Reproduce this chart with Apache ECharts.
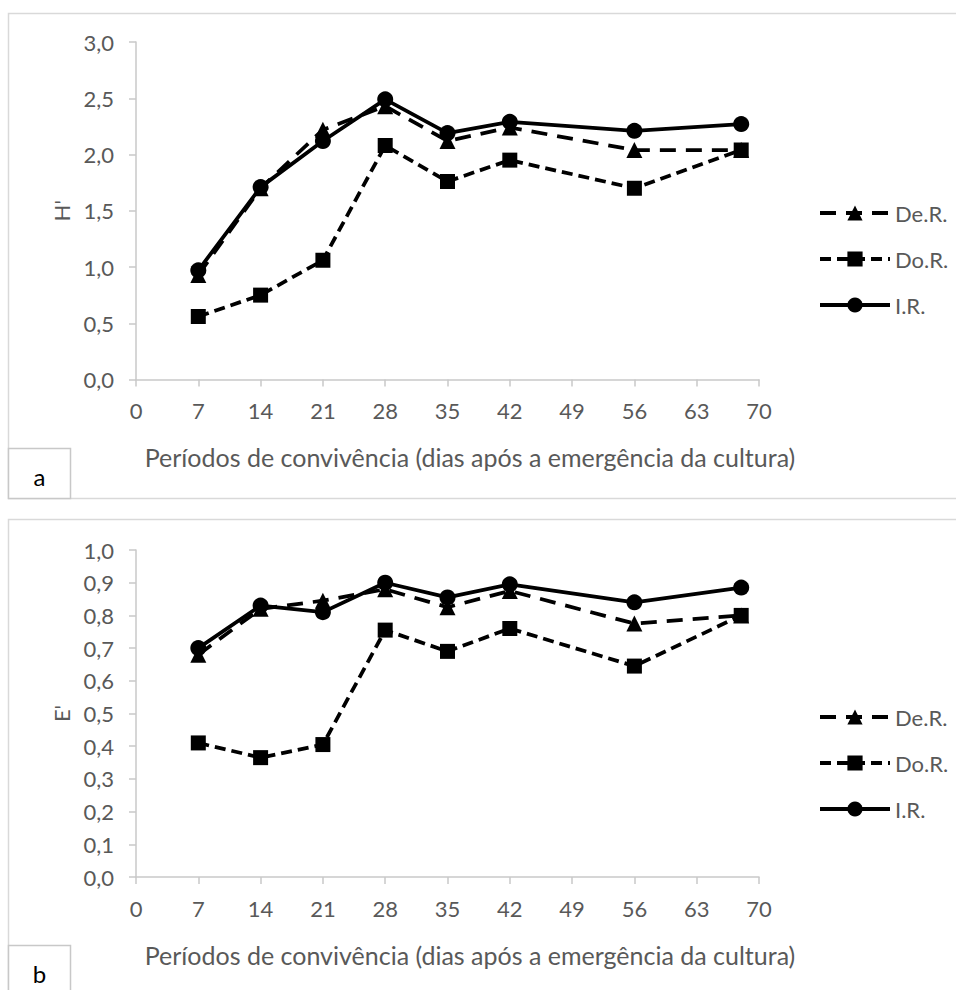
<!DOCTYPE html>
<html>
<head>
<meta charset="utf-8">
<script src="https://cdn.jsdelivr.net/npm/echarts@6/dist/echarts.min.js"></script>
<style>
html,body{margin:0;padding:0;background:#fff;}
#c{width:956px;height:990px;}
</style>
</head>
<body>
<div id="c"></div>
<script>
// ---- data ----
var days = [7, 14, 21, 28, 35, 42, 56, 68];
var xTicks = [0, 7, 14, 21, 28, 35, 42, 49, 56, 63, 70];
var seriesNames = ['De.R.', 'Do.R.', 'I.R.'];
// panel a: H'
var hDeR = [0.93, 1.70, 2.22, 2.43, 2.12, 2.24, 2.04, 2.04];
var hDoR = [0.56, 0.75, 1.06, 2.08, 1.76, 1.95, 1.70, 2.04];
var hIR  = [0.97, 1.71, 2.12, 2.49, 2.19, 2.29, 2.21, 2.27];
// panel b: E'
var eDeR = [0.68, 0.82, 0.845, 0.88, 0.825, 0.875, 0.775, 0.80];
var eDoR = [0.41, 0.365, 0.405, 0.755, 0.69, 0.76, 0.645, 0.80];
var eIR  = [0.70, 0.83, 0.81, 0.90, 0.855, 0.895, 0.84, 0.885];
var xTitle = 'Períodos de convivência (dias após a emergência da cultura)';

function pairs(ys) { return days.map(function (d, i) { return [d, ys[i]]; }); }
function fmt(v) { return v.toFixed(1).replace('.', ','); }

var FONT = 'Lato';
var GREY = '#595959';
var AXIS = '#c9c9c9';

var styles = {
  'De.R.': { symbol: 'triangle', size: 16, dash: [16, 10] },
  'Do.R.': { symbol: 'rect', size: 15, dash: [11, 6] },
  'I.R.':  { symbol: 'circle', size: 16, dash: 'solid' }
};

function mkSeries(name, data, idx) {
  var s = styles[name];
  return {
    name: name, type: 'line', xAxisIndex: idx, yAxisIndex: idx,
    data: pairs(data), symbol: s.symbol, symbolSize: s.size,
    showAllSymbol: true,
    lineStyle: { color: '#000', width: 3.75, type: s.dash },
    itemStyle: { color: '#000', borderWidth: 0 },
    emphasis: { disabled: true },
    animation: false
  };
}

function xAx(idx, gapName) {
  return {
    type: 'value', gridIndex: idx, min: 0, max: 70, interval: 7,
    axisLine: { show: true, lineStyle: { color: AXIS, width: 1.5 } },
    axisTick: { show: true, length: 7, lineStyle: { color: AXIS, width: 1.5 } },
    splitLine: { show: false },
    axisLabel: { color: GREY, fontSize: 22, fontFamily: FONT, margin: 20 },
    name: xTitle, nameLocation: 'middle', nameGap: gapName,
    nameTextStyle: { color: GREY, fontSize: 25, fontFamily: FONT, padding: [0, 0, 0, 45] }
  };
}
function yAx(idx, max, interval, nm) {
  return {
    type: 'value', gridIndex: idx, min: 0, max: max, interval: interval,
    axisLine: { show: true, lineStyle: { color: AXIS, width: 1.5 } },
    axisTick: { show: true, length: 7, lineStyle: { color: AXIS, width: 1.5 } },
    splitLine: { show: false },
    axisLabel: { color: GREY, fontSize: 22, fontFamily: FONT, margin: 22, formatter: fmt },
    name: nm, nameLocation: 'middle', nameGap: 28, nameRotate: 90,
    nameTextStyle: { color: GREY, fontSize: 22, fontFamily: FONT }
  };
}

function legendAt(top) {
  return {
    orient: 'vertical', left: 813, top: top,
    data: seriesNames, itemWidth: 70, itemHeight: 19, itemGap: 24,
    selectedMode: false,
    lineStyle: { width: 4 },
    textStyle: { color: GREY, fontSize: 22, fontFamily: FONT, lineHeight: 22 }
  };
}

var chart = echarts.init(document.getElementById('c'), null, { renderer: 'svg' });
chart.setOption({
  backgroundColor: '#fff',
  animation: false,
  grid: [
    { left: 136, top: 42, width: 623, height: 337.5 },
    { left: 136, top: 550, width: 623, height: 327 }
  ],
  xAxis: [xAx(0, 65), xAx(1, 65)],
  yAxis: [yAx(0, 3, 0.5, "H'"), yAx(1, 1, 0.1, "E'")],
  legend: [legendAt(197), legendAt(701)],
  series: [
    mkSeries('De.R.', hDeR, 0), mkSeries('Do.R.', hDoR, 0), mkSeries('I.R.', hIR, 0),
    mkSeries('De.R.', eDeR, 1), mkSeries('Do.R.', eDoR, 1), mkSeries('I.R.', eIR, 1)
  ],
  graphic: [
    { type: 'rect', z: -10, shape: { x: 8.5, y: 13.5, width: 960, height: 485 },
      style: { fill: 'none', stroke: '#d9d9d9', lineWidth: 1.5 } },
    { type: 'rect', z: -10, shape: { x: 8.5, y: 519.5, width: 960, height: 500 },
      style: { fill: 'none', stroke: '#d9d9d9', lineWidth: 1.5 } },
    { type: 'rect', z: 5, shape: { x: 8.5, y: 448.5, width: 62, height: 50 },
      style: { fill: '#fff', stroke: '#c8c8c8', lineWidth: 1.5 } },
    { type: 'text', z: 6, x: 39.5, y: 476,
      style: { text: 'a', fontSize: 24, fontFamily: FONT, fill: '#000', align: 'center', verticalAlign: 'middle' } },
    { type: 'rect', z: 5, shape: { x: 8.5, y: 945.5, width: 62, height: 60 },
      style: { fill: '#fff', stroke: '#c8c8c8', lineWidth: 1.5 } },
    { type: 'text', z: 6, x: 39.5, y: 973,
      style: { text: 'b', fontSize: 24, fontFamily: FONT, fill: '#000', align: 'center', verticalAlign: 'middle' } }
  ]
});
</script>
</body>
</html>
